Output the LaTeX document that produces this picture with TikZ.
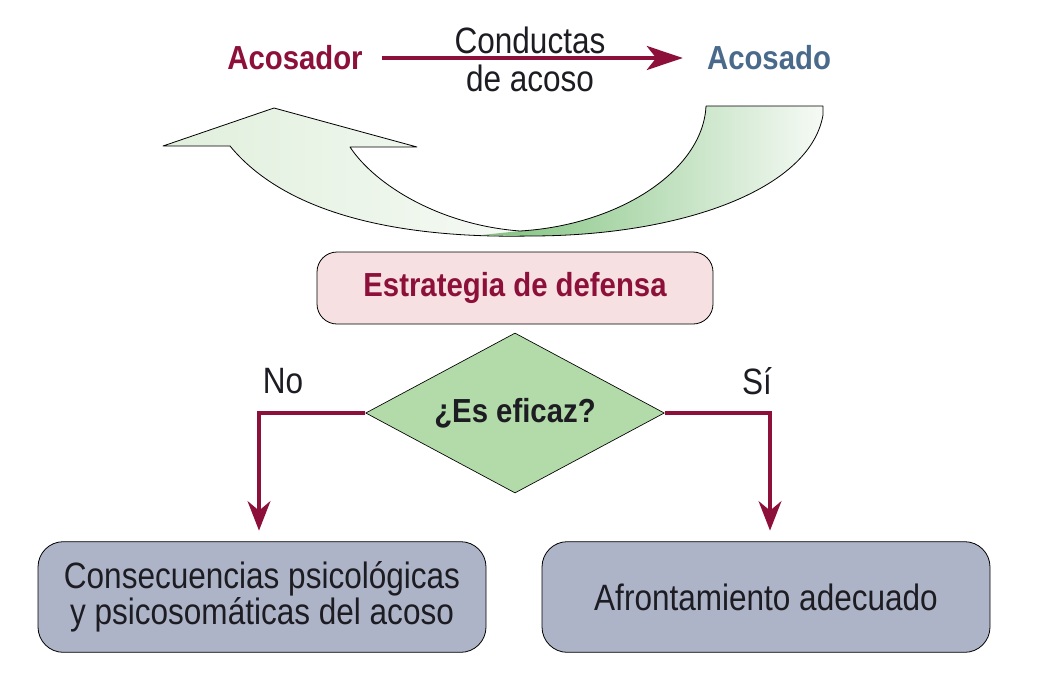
\documentclass[tikz,border=0pt]{standalone}
\usepackage{fontspec}
\setmainfont{Liberation Sans}[FakeStretch=0.86]
\newfontfamily\bfcond{Liberation Sans}[FakeStretch=0.88]
\usetikzlibrary{shapes.geometric,arrows.meta}
\definecolor{crim}{RGB}{140,16,58}
\definecolor{steel}{RGB}{74,106,140}
\definecolor{pinkfill}{RGB}{246,224,225}
\definecolor{diafill}{RGB}{179,219,169}
\definecolor{boxfill}{RGB}{174,180,200}
\definecolor{gdark}{RGB}{128,194,126}
\definecolor{glight}{RGB}{224,239,220}
\definecolor{gpale}{RGB}{246,250,245}
\definecolor{txt}{RGB}{28,28,34}
\tikzset{
  regtext/.style={font=\fontsize{27.5}{25}\selectfont, inner sep=0pt, text=txt},
  boldtext/.style={font=\bfcond\bfseries\fontsize{25}{30}\selectfont, inner sep=0pt},
  stratbox/.style={draw=black, line width=0.6pt, fill=pinkfill, rounded corners=15pt,
    minimum width=297pt, minimum height=54pt, text=crim, boldtext},
  endbox/.style={draw=black, line width=0.6pt, fill=boxfill, rounded corners=19pt,
    minimum width=336pt, minimum height=83pt, align=center, regtext},
  decis/.style={draw=black, line width=0.5pt, fill=diafill, shape=diamond, aspect=1.86,
    minimum width=224pt, minimum height=120pt, boldtext, text=txt},
  toparrow/.style={draw=crim, line width=3pt, -{Stealth[length=27pt,width=18pt,inset=7pt]}},
  downarrow/.style={draw=crim, line width=3pt, -{Stealth[length=22pt,width=17pt,inset=7pt]}},
  greenline/.style={draw=black, line width=0.6pt, line join=round}
}
\begin{document}
\begin{tikzpicture}[x=0.75pt,y=-0.75pt]
\useasboundingbox (0,0) rectangle (1037,675);

% U-turn ribbon arrow
\shade[left color=glight, right color=gpale]
  (530,236) .. controls (430,238) and (295,225) .. (230,146) -- (163,146) -- (274,108)
  -- (417,147) -- (350,147) .. controls (375,185) and (440,225) .. (520,231) -- cycle;
\shade[left color=gdark, right color=gpale]
  (482,235) -- (520,231) .. controls (620,225) and (703,170) .. (706,106) -- (823,106) -- (823,115)
  .. controls (810,190) and (680,236) .. (530,236) -- cycle;
\draw[greenline] (706,106) -- (823,106) -- (823,115)
  .. controls (810,190) and (680,236) .. (530,236)
  .. controls (430,238) and (295,225) .. (230,146) -- (163,146) -- (274,108)
  -- (417,147) -- (350,147) .. controls (375,185) and (440,225) .. (520,231)
  .. controls (620,225) and (703,170) .. (706,106);

% top row
\node[boldtext, text=crim] (acosador) at (295,58) {Acosador};
\node[boldtext, text=steel] (acosado) at (769,58) {Acosado};
\node[regtext, align=center, font=\fontsize{27.5}{28.5}\selectfont] (conductas) at (530,59) {Conductas\\de acoso};
\draw[toparrow, shorten <=14pt, shorten >=18pt] (acosador.east) -- (acosado.west);

% flow
\node[stratbox] (estrategia) at (515,288) {Estrategia de defensa};
\node[decis] (eficaz) at (515,413) {¿Es eficaz?};
\node[endbox] (consec) at (262,597) {Consecuencias psicológicas\\y psicosomáticas del acoso};
\node[endbox] (afront) at (766,597) {Afrontamiento adecuado};

\node[regtext] (no) at (283,381) {No};
\node[regtext] (si) at (757,381) {Sí};

\draw[downarrow] (eficaz.west) -| ([xshift=-2.25pt,yshift=8pt]consec.north);
\draw[downarrow] (eficaz.east) -| ([xshift=3pt,yshift=8pt]afront.north);
\end{tikzpicture}
\end{document}
